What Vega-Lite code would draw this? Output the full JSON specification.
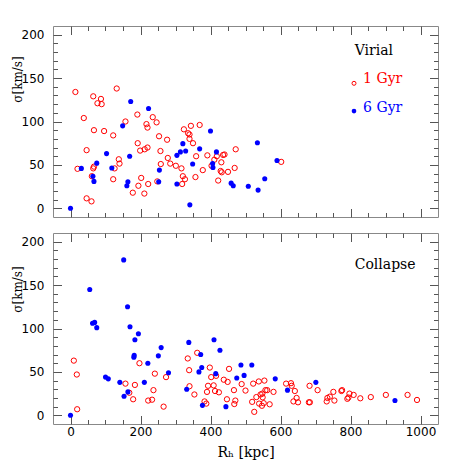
{
  "$schema": "https://vega.github.io/schema/vega-lite/v6.json",
  "padding": {"left": 10, "top": 25, "right": 5, "bottom": 5},
  "background": "white",
  "config": {
    "view": {"stroke": "#888888", "strokeWidth": 1},
    "axis": {"grid": false, "domain": false, "labelFlush": false, "labelOverlap": false, "tickColor": "#555555", "tickWidth": 1}
  },
  "spacing": 14,
  "datasets": {
    "virial": [
      {"r":14,"s":134,"g":"1 Gyr"},{"r":65,"s":129,"g":"1 Gyr"},{"r":87,"s":126,"g":"1 Gyr"},{"r":89,"s":120,"g":"1 Gyr"},{"r":77,"s":121,"g":"1 Gyr"},
      {"r":132,"s":138,"g":"1 Gyr"},{"r":38,"s":104,"g":"1 Gyr"},{"r":67,"s":90,"g":"1 Gyr"},{"r":96,"s":89,"g":"1 Gyr"},{"r":122,"s":84,"g":"1 Gyr"},
      {"r":157,"s":100,"g":"1 Gyr"},{"r":191,"s":108,"g":"1 Gyr"},{"r":217,"s":97,"g":"1 Gyr"},{"r":220,"s":93,"g":"1 Gyr"},{"r":235,"s":105,"g":"1 Gyr"},
      {"r":246,"s":99,"g":"1 Gyr"},{"r":253,"s":83,"g":"1 Gyr"},{"r":276,"s":79,"g":"1 Gyr"},{"r":192,"s":75,"g":"1 Gyr"},{"r":199,"s":66.5,"g":"1 Gyr"},
      {"r":212,"s":68,"g":"1 Gyr"},{"r":220,"s":70,"g":"1 Gyr"},{"r":257,"s":66,"g":"1 Gyr"},{"r":46,"s":67,"g":"1 Gyr"},{"r":138,"s":56.5,"g":"1 Gyr"},
      {"r":140,"s":51.5,"g":"1 Gyr"},{"r":126,"s":46,"g":"1 Gyr"},{"r":67,"s":48,"g":"1 Gyr"},{"r":65,"s":46,"g":"1 Gyr"},{"r":20,"s":45.5,"g":"1 Gyr"},
      {"r":61,"s":37,"g":"1 Gyr"},{"r":122,"s":33.5,"g":"1 Gyr"},{"r":46,"s":11.5,"g":"1 Gyr"},{"r":60,"s":8,"g":"1 Gyr"},{"r":202,"s":35,"g":"1 Gyr"},
      {"r":194,"s":26,"g":"1 Gyr"},{"r":178,"s":18,"g":"1 Gyr"},{"r":211,"s":17,"g":"1 Gyr"},{"r":222,"s":28,"g":"1 Gyr"},{"r":248,"s":31,"g":"1 Gyr"},
      {"r":258,"s":51,"g":"1 Gyr"},{"r":278,"s":58,"g":"1 Gyr"},{"r":285,"s":51.5,"g":"1 Gyr"},{"r":301,"s":49,"g":"1 Gyr"},{"r":317,"s":46,"g":"1 Gyr"},
      {"r":321,"s":37,"g":"1 Gyr"},{"r":327,"s":33.5,"g":"1 Gyr"},{"r":319,"s":28,"g":"1 Gyr"},{"r":324,"s":91,"g":"1 Gyr"},{"r":344,"s":95,"g":"1 Gyr"},
      {"r":369,"s":96,"g":"1 Gyr"},{"r":336,"s":86.5,"g":"1 Gyr"},{"r":340,"s":85,"g":"1 Gyr"},{"r":340,"s":80,"g":"1 Gyr"},{"r":350,"s":75,"g":"1 Gyr"},
      {"r":359,"s":60,"g":"1 Gyr"},{"r":378,"s":44,"g":"1 Gyr"},{"r":357,"s":36,"g":"1 Gyr"},{"r":391,"s":61,"g":"1 Gyr"},{"r":411,"s":56,"g":"1 Gyr"},
      {"r":418,"s":60,"g":"1 Gyr"},{"r":436,"s":61.5,"g":"1 Gyr"},{"r":440,"s":62,"g":"1 Gyr"},{"r":431,"s":53,"g":"1 Gyr"},{"r":429,"s":43,"g":"1 Gyr"},
      {"r":432,"s":41.5,"g":"1 Gyr"},{"r":450,"s":42,"g":"1 Gyr"},{"r":469,"s":46.5,"g":"1 Gyr"},{"r":472,"s":68,"g":"1 Gyr"},{"r":422,"s":32,"g":"1 Gyr"},
      {"r":403,"s":49,"g":"1 Gyr"},{"r":602,"s":53.5,"g":"1 Gyr"},
      {"r":0,"s":0,"g":"6 Gyr"},{"r":31,"s":46,"g":"6 Gyr"},{"r":64,"s":37,"g":"6 Gyr"},{"r":67,"s":31,"g":"6 Gyr"},{"r":75,"s":52,"g":"6 Gyr"},
      {"r":103,"s":63,"g":"6 Gyr"},{"r":118,"s":46.5,"g":"6 Gyr"},{"r":149,"s":95,"g":"6 Gyr"},{"r":172,"s":123,"g":"6 Gyr"},{"r":169,"s":60,"g":"6 Gyr"},
      {"r":164,"s":30.5,"g":"6 Gyr"},{"r":161,"s":26,"g":"6 Gyr"},{"r":223,"s":115,"g":"6 Gyr"},{"r":254,"s":44,"g":"6 Gyr"},{"r":252,"s":30.5,"g":"6 Gyr"},
      {"r":304,"s":61,"g":"6 Gyr"},{"r":304,"s":28,"g":"6 Gyr"},{"r":314,"s":65,"g":"6 Gyr"},{"r":321,"s":74.5,"g":"6 Gyr"},{"r":329,"s":66,"g":"6 Gyr"},
      {"r":341,"s":4,"g":"6 Gyr"},{"r":349,"s":51,"g":"6 Gyr"},{"r":369,"s":68.5,"g":"6 Gyr"},{"r":400,"s":89,"g":"6 Gyr"},{"r":406,"s":51.5,"g":"6 Gyr"},
      {"r":407,"s":47,"g":"6 Gyr"},{"r":417,"s":65,"g":"6 Gyr"},{"r":459,"s":29,"g":"6 Gyr"},{"r":465,"s":26,"g":"6 Gyr"},{"r":508,"s":25.5,"g":"6 Gyr"},
      {"r":536,"s":21,"g":"6 Gyr"},{"r":534,"s":75.5,"g":"6 Gyr"},{"r":555,"s":34,"g":"6 Gyr"},{"r":590,"s":55,"g":"6 Gyr"}
    ],
    "collapse": [
      {"r":9.5,"s":63,"g":"1 Gyr"},{"r":18,"s":47,"g":"1 Gyr"},{"r":19,"s":7,"g":"1 Gyr"},{"r":197,"s":60,"g":"1 Gyr"},{"r":241,"s":48,"g":"1 Gyr"},
      {"r":273,"s":44,"g":"1 Gyr"},{"r":157,"s":36.5,"g":"1 Gyr"},{"r":184,"s":35,"g":"1 Gyr"},{"r":168,"s":26,"g":"1 Gyr"},{"r":237,"s":29,"g":"1 Gyr"},
      {"r":179,"s":18.5,"g":"1 Gyr"},{"r":222,"s":17,"g":"1 Gyr"},{"r":233,"s":18,"g":"1 Gyr"},{"r":266,"s":10,"g":"1 Gyr"},
      {"r":335,"s":65.5,"g":"1 Gyr"},{"r":362,"s":72,"g":"1 Gyr"},{"r":339,"s":52,"g":"1 Gyr"},{"r":398,"s":55,"g":"1 Gyr"},{"r":402,"s":44,"g":"1 Gyr"},
      {"r":416,"s":45.5,"g":"1 Gyr"},{"r":453,"s":53.5,"g":"1 Gyr"},{"r":438,"s":41,"g":"1 Gyr"},{"r":449,"s":38.5,"g":"1 Gyr"},{"r":340,"s":33.5,"g":"1 Gyr"},
      {"r":354,"s":24,"g":"1 Gyr"},{"r":393,"s":34,"g":"1 Gyr"},{"r":409,"s":34.5,"g":"1 Gyr"},{"r":390,"s":27,"g":"1 Gyr"},{"r":413,"s":28,"g":"1 Gyr"},
      {"r":424,"s":26.5,"g":"1 Gyr"},{"r":383,"s":16,"g":"1 Gyr"},{"r":388,"s":13.5,"g":"1 Gyr"},{"r":447,"s":18.5,"g":"1 Gyr"},{"r":471,"s":17,"g":"1 Gyr"},
      {"r":468,"s":13,"g":"1 Gyr"},{"r":467,"s":29,"g":"1 Gyr"},{"r":489,"s":36,"g":"1 Gyr"},{"r":500,"s":28.5,"g":"1 Gyr"},{"r":522,"s":36.5,"g":"1 Gyr"},
      {"r":519,"s":15.5,"g":"1 Gyr"},{"r":525,"s":4,"g":"1 Gyr"},{"r":538,"s":39,"g":"1 Gyr"},{"r":554,"s":40,"g":"1 Gyr"},{"r":531,"s":21,"g":"1 Gyr"},
      {"r":543,"s":24,"g":"1 Gyr"},{"r":548,"s":25,"g":"1 Gyr"},{"r":549,"s":20.7,"g":"1 Gyr"},{"r":557,"s":29,"g":"1 Gyr"},{"r":562,"s":29,"g":"1 Gyr"},
      {"r":539,"s":13.5,"g":"1 Gyr"},{"r":547,"s":11,"g":"1 Gyr"},{"r":552,"s":14,"g":"1 Gyr"},{"r":569,"s":12.7,"g":"1 Gyr"},{"r":580,"s":27,"g":"1 Gyr"},
      {"r":616,"s":36.5,"g":"1 Gyr"},{"r":630,"s":37,"g":"1 Gyr"},{"r":632,"s":34,"g":"1 Gyr"},{"r":641,"s":28,"g":"1 Gyr"},{"r":637,"s":16,"g":"1 Gyr"},
      {"r":646,"s":20,"g":"1 Gyr"},{"r":650,"s":15,"g":"1 Gyr"},{"r":683,"s":34,"g":"1 Gyr"},{"r":706,"s":29,"g":"1 Gyr"},{"r":681,"s":15,"g":"1 Gyr"},
      {"r":684,"s":15,"g":"1 Gyr"},{"r":734,"s":20,"g":"1 Gyr"},{"r":741,"s":21.5,"g":"1 Gyr"},{"r":732,"s":16,"g":"1 Gyr"},{"r":751,"s":27,"g":"1 Gyr"},
      {"r":754,"s":17,"g":"1 Gyr"},{"r":774,"s":28,"g":"1 Gyr"},{"r":776,"s":29,"g":"1 Gyr"},{"r":797,"s":25,"g":"1 Gyr"},{"r":791,"s":19,"g":"1 Gyr"},
      {"r":794,"s":20.5,"g":"1 Gyr"},{"r":809,"s":23.5,"g":"1 Gyr"},{"r":828,"s":19.6,"g":"1 Gyr"},{"r":858,"s":21,"g":"1 Gyr"},{"r":901,"s":23.5,"g":"1 Gyr"},
      {"r":963,"s":23.5,"g":"1 Gyr"},{"r":990,"s":17.7,"g":"1 Gyr"},
      {"r":0,"s":0,"g":"6 Gyr"},{"r":55,"s":145,"g":"6 Gyr"},{"r":63,"s":106,"g":"6 Gyr"},{"r":69,"s":107,"g":"6 Gyr"},{"r":75,"s":101,"g":"6 Gyr"},
      {"r":100,"s":44,"g":"6 Gyr"},{"r":108,"s":42,"g":"6 Gyr"},{"r":152,"s":179,"g":"6 Gyr"},{"r":163,"s":125,"g":"6 Gyr"},{"r":170,"s":102,"g":"6 Gyr"},
      {"r":194,"s":94,"g":"6 Gyr"},{"r":184,"s":87,"g":"6 Gyr"},{"r":182,"s":69,"g":"6 Gyr"},{"r":181,"s":67,"g":"6 Gyr"},{"r":221,"s":60,"g":"6 Gyr"},
      {"r":141,"s":38,"g":"6 Gyr"},{"r":153,"s":22,"g":"6 Gyr"},{"r":164,"s":27,"g":"6 Gyr"},{"r":211,"s":38,"g":"6 Gyr"},{"r":251,"s":68.5,"g":"6 Gyr"},
      {"r":259,"s":78,"g":"6 Gyr"},{"r":280,"s":49,"g":"6 Gyr"},{"r":338,"s":84,"g":"6 Gyr"},{"r":372,"s":70,"g":"6 Gyr"},{"r":375,"s":55,"g":"6 Gyr"},
      {"r":367,"s":50,"g":"6 Gyr"},{"r":332,"s":30,"g":"6 Gyr"},{"r":377,"s":11.5,"g":"6 Gyr"},{"r":410,"s":87,"g":"6 Gyr"},{"r":427,"s":75,"g":"6 Gyr"},
      {"r":415,"s":48,"g":"6 Gyr"},{"r":444,"s":10,"g":"6 Gyr"},{"r":475,"s":43,"g":"6 Gyr"},{"r":487,"s":58,"g":"6 Gyr"},{"r":496,"s":46,"g":"6 Gyr"},
      {"r":518,"s":58,"g":"6 Gyr"},{"r":585,"s":42,"g":"6 Gyr"},{"r":620,"s":29,"g":"6 Gyr"},{"r":701,"s":38,"g":"6 Gyr"},{"r":927,"s":17,"g":"6 Gyr"}
    ],
    "toptext": [
      {"r":812,"s":181.5,"t":"Virial","g":"label"},
      {"r":836,"s":149,"t":"1 Gyr","g":"1 Gyr"},
      {"r":836,"s":116,"t":"6 Gyr","g":"6 Gyr"}
    ],
    "topmarks": [
      {"r":810,"s":144,"g":"1 Gyr"},
      {"r":810,"s":112,"g":"6 Gyr"}
    ],
    "bottomtext": [
      {"r":812,"s":173.5,"t":"Collapse","g":"label"}
    ]
  },
  "vconcat": [
    {
      "width": 385,
      "height": 191,
      "data": {"name": "virial"},
      "resolve": {"axis": {"x": "independent", "y": "independent"}},
      "layer": [
        {
          "transform": [{"filter": "datum.g === '1 Gyr'"}],
          "mark": {"type": "point", "shape": "circle", "filled": false, "color": "#ff0000", "size": 28, "strokeWidth": 1, "opacity": 1},
          "encoding": {
            "x": {"field": "r", "type": "quantitative", "scale": {"domain": [-50, 1050], "nice": false, "zero": false},
                  "axis": {"orient": "bottom", "values": [0, 200, 400, 600, 800, 1000], "ticks": false, "labels": false, "title": null}},
            "y": {"field": "s", "type": "quantitative", "scale": {"domain": [-10, 210], "nice": false, "zero": false},
                  "axis": {"orient": "left", "values": [0, 50, 100, 150, 200], "ticks": false, "labelFont": "DejaVu Sans", "labelFontSize": 12, "labelColor": "#000000", "labelPadding": 9,
                           "title": "σ[km/s]", "titleFont": "DejaVu Serif", "titleFontSize": 12, "titleFontWeight": "normal", "titleColor": "#000000",
                           "titleX": -36, "titleY": 53, "titleAngle": -90, "titleAlign": "center", "titleBaseline": "middle"}}
          }
        },
        {
          "transform": [{"filter": "datum.g === '6 Gyr'"}],
          "mark": {"type": "circle", "color": "#0000ff", "size": 26, "opacity": 1},
          "encoding": {
            "x": {"field": "r", "type": "quantitative", "scale": {"domain": [-50, 1050], "nice": false, "zero": false},
                  "axis": {"orient": "top", "values": [0, 200, 400, 600, 800, 1000], "tickSize": -8.5, "labels": false, "title": null}},
            "y": {"field": "s", "type": "quantitative", "scale": {"domain": [-10, 210], "nice": false, "zero": false},
                  "axis": {"orient": "right", "values": [0, 50, 100, 150, 200], "tickSize": -8.5, "labels": false, "title": null}}
          }
        },
        {
          "mark": {"type": "point", "opacity": 0},
          "encoding": {
            "x": {"field": "r", "type": "quantitative", "scale": {"domain": [-50, 1050], "nice": false, "zero": false},
                  "axis": {"orient": "bottom", "values": [0, 200, 400, 600, 800, 1000], "tickSize": -8.5, "labels": false, "title": null}},
            "y": {"field": "s", "type": "quantitative", "scale": {"domain": [-10, 210], "nice": false, "zero": false},
                  "axis": {"orient": "left", "values": [0, 50, 100, 150, 200], "tickSize": -8.5, "labels": false, "title": null}}
          }
        },
        {
          "mark": {"type": "point", "opacity": 0},
          "encoding": {
            "x": {"field": "r", "type": "quantitative", "scale": {"domain": [-50, 1050], "nice": false, "zero": false},
                  "axis": {"orient": "bottom", "values": [50, 100, 150, 250, 300, 350, 450, 500, 550, 650, 700, 750, 850, 900, 950], "tickSize": -4.5, "labels": false, "title": null}},
            "y": {"field": "s", "type": "quantitative", "scale": {"domain": [-10, 210], "nice": false, "zero": false},
                  "axis": {"orient": "left", "values": [10, 20, 30, 40, 60, 70, 80, 90, 110, 120, 130, 140, 160, 170, 180, 190], "tickSize": -4.5, "labels": false, "title": null}}
          }
        },
        {
          "mark": {"type": "point", "opacity": 0},
          "encoding": {
            "x": {"field": "r", "type": "quantitative", "scale": {"domain": [-50, 1050], "nice": false, "zero": false},
                  "axis": {"orient": "top", "values": [50, 100, 150, 250, 300, 350, 450, 500, 550, 650, 700, 750, 850, 900, 950], "tickSize": -4.5, "labels": false, "title": null}},
            "y": {"field": "s", "type": "quantitative", "scale": {"domain": [-10, 210], "nice": false, "zero": false},
                  "axis": {"orient": "right", "values": [10, 20, 30, 40, 60, 70, 80, 90, 110, 120, 130, 140, 160, 170, 180, 190], "tickSize": -4.5, "labels": false, "title": null}}
          }
        },
        {
          "data": {"name": "toptext"},
          "mark": {"type": "text", "align": "left", "baseline": "middle", "font": "DejaVu Serif", "fontSize": 14},
          "encoding": {
            "x": {"field": "r", "type": "quantitative", "scale": {"domain": [-50, 1050], "nice": false, "zero": false}, "axis": null},
            "y": {"field": "s", "type": "quantitative", "scale": {"domain": [-10, 210], "nice": false, "zero": false}, "axis": null},
            "text": {"field": "t"},
            "color": {"field": "g", "type": "nominal", "scale": {"domain": ["label", "1 Gyr", "6 Gyr"], "range": ["#000000", "#ff0000", "#0000ff"]}, "legend": null}
          }
        },
        {
          "data": {"name": "topmarks"},
          "transform": [{"filter": "datum.g === '1 Gyr'"}],
          "mark": {"type": "point", "shape": "circle", "filled": false, "color": "#ff0000", "size": 16, "strokeWidth": 1, "opacity": 1},
          "encoding": {
            "x": {"field": "r", "type": "quantitative", "scale": {"domain": [-50, 1050], "nice": false, "zero": false}, "axis": null},
            "y": {"field": "s", "type": "quantitative", "scale": {"domain": [-10, 210], "nice": false, "zero": false}, "axis": null}
          }
        },
        {
          "data": {"name": "topmarks"},
          "transform": [{"filter": "datum.g === '6 Gyr'"}],
          "mark": {"type": "circle", "color": "#0000ff", "size": 22, "opacity": 1},
          "encoding": {
            "x": {"field": "r", "type": "quantitative", "scale": {"domain": [-50, 1050], "nice": false, "zero": false}, "axis": null},
            "y": {"field": "s", "type": "quantitative", "scale": {"domain": [-10, 210], "nice": false, "zero": false}, "axis": null}
          }
        }
      ]
    },
    {
      "width": 385,
      "height": 191,
      "data": {"name": "collapse"},
      "resolve": {"axis": {"x": "independent", "y": "independent"}},
      "layer": [
        {
          "transform": [{"filter": "datum.g === '1 Gyr'"}],
          "mark": {"type": "point", "shape": "circle", "filled": false, "color": "#ff0000", "size": 28, "strokeWidth": 1, "opacity": 1},
          "encoding": {
            "x": {"field": "r", "type": "quantitative", "scale": {"domain": [-50, 1050], "nice": false, "zero": false},
                  "axis": {"orient": "bottom", "values": [0, 200, 400, 600, 800, 1000], "format": "d", "ticks": false, "labelFont": "DejaVu Sans", "labelFontSize": 12, "labelColor": "#000000", "labelPadding": 2,
                           "title": "Rₕ [kpc]", "titleFont": "DejaVu Serif", "titleFontSize": 14, "titleFontWeight": "normal", "titleColor": "#000000", "titlePadding": 8}},
            "y": {"field": "s", "type": "quantitative", "scale": {"domain": [-10, 210], "nice": false, "zero": false},
                  "axis": {"orient": "left", "values": [0, 50, 100, 150, 200], "ticks": false, "labelFont": "DejaVu Sans", "labelFontSize": 12, "labelColor": "#000000", "labelPadding": 9,
                           "title": "σ[km/s]", "titleFont": "DejaVu Serif", "titleFontSize": 12, "titleFontWeight": "normal", "titleColor": "#000000",
                           "titleX": -36, "titleY": 56, "titleAngle": -90, "titleAlign": "center", "titleBaseline": "middle"}}
          }
        },
        {
          "transform": [{"filter": "datum.g === '6 Gyr'"}],
          "mark": {"type": "circle", "color": "#0000ff", "size": 26, "opacity": 1},
          "encoding": {
            "x": {"field": "r", "type": "quantitative", "scale": {"domain": [-50, 1050], "nice": false, "zero": false},
                  "axis": {"orient": "top", "values": [0, 200, 400, 600, 800, 1000], "tickSize": -8.5, "labels": false, "title": null}},
            "y": {"field": "s", "type": "quantitative", "scale": {"domain": [-10, 210], "nice": false, "zero": false},
                  "axis": {"orient": "right", "values": [0, 50, 100, 150, 200], "tickSize": -8.5, "labels": false, "title": null}}
          }
        },
        {
          "mark": {"type": "point", "opacity": 0},
          "encoding": {
            "x": {"field": "r", "type": "quantitative", "scale": {"domain": [-50, 1050], "nice": false, "zero": false},
                  "axis": {"orient": "bottom", "values": [0, 200, 400, 600, 800, 1000], "tickSize": -8.5, "labels": false, "title": null}},
            "y": {"field": "s", "type": "quantitative", "scale": {"domain": [-10, 210], "nice": false, "zero": false},
                  "axis": {"orient": "left", "values": [0, 50, 100, 150, 200], "tickSize": -8.5, "labels": false, "title": null}}
          }
        },
        {
          "mark": {"type": "point", "opacity": 0},
          "encoding": {
            "x": {"field": "r", "type": "quantitative", "scale": {"domain": [-50, 1050], "nice": false, "zero": false},
                  "axis": {"orient": "bottom", "values": [50, 100, 150, 250, 300, 350, 450, 500, 550, 650, 700, 750, 850, 900, 950], "tickSize": -4.5, "labels": false, "title": null}},
            "y": {"field": "s", "type": "quantitative", "scale": {"domain": [-10, 210], "nice": false, "zero": false},
                  "axis": {"orient": "left", "values": [10, 20, 30, 40, 60, 70, 80, 90, 110, 120, 130, 140, 160, 170, 180, 190], "tickSize": -4.5, "labels": false, "title": null}}
          }
        },
        {
          "mark": {"type": "point", "opacity": 0},
          "encoding": {
            "x": {"field": "r", "type": "quantitative", "scale": {"domain": [-50, 1050], "nice": false, "zero": false},
                  "axis": {"orient": "top", "values": [50, 100, 150, 250, 300, 350, 450, 500, 550, 650, 700, 750, 850, 900, 950], "tickSize": -4.5, "labels": false, "title": null}},
            "y": {"field": "s", "type": "quantitative", "scale": {"domain": [-10, 210], "nice": false, "zero": false},
                  "axis": {"orient": "right", "values": [10, 20, 30, 40, 60, 70, 80, 90, 110, 120, 130, 140, 160, 170, 180, 190], "tickSize": -4.5, "labels": false, "title": null}}
          }
        },
        {
          "data": {"name": "bottomtext"},
          "mark": {"type": "text", "align": "left", "baseline": "middle", "font": "DejaVu Serif", "fontSize": 14, "color": "#000000"},
          "encoding": {
            "x": {"field": "r", "type": "quantitative", "scale": {"domain": [-50, 1050], "nice": false, "zero": false}, "axis": null},
            "y": {"field": "s", "type": "quantitative", "scale": {"domain": [-10, 210], "nice": false, "zero": false}, "axis": null},
            "text": {"field": "t"}
          }
        }
      ]
    }
  ]
}
